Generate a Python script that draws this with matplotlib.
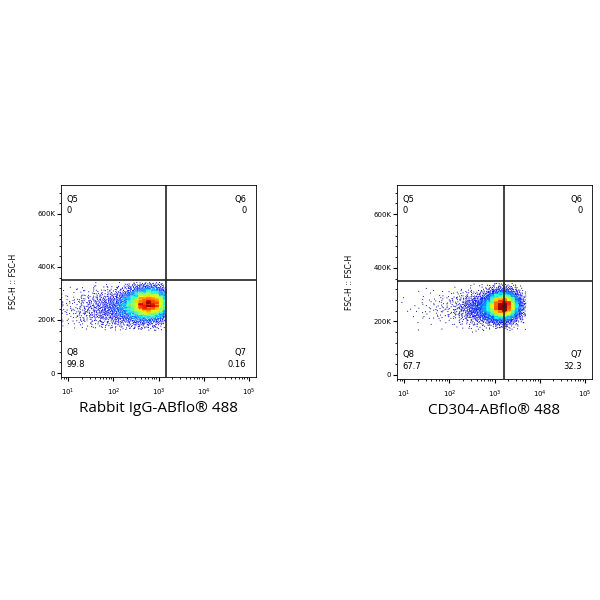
import numpy as np
import matplotlib
matplotlib.use("Agg")
import matplotlib.pyplot as plt
from matplotlib.ticker import FixedLocator

# panel data
titles = ["Rabbit IgG-ABflo\u00ae 488", "CD304-ABflo\u00ae 488"]
quad_values = [["0", "0", "0.16", "99.8"], ["0", "0", "32.3", "67.7"]]
x_gate = [1450, 1600]
y_gate = [350000, 350000]
x_max_log = [3.17, 3.7]
# population components: (log10 x centre, y centre, log sd, y sd, count)
pops = [
    [(2.8, 262000, 0.28, 34000, 3500), (2.3, 245000, 0.45, 38000, 1300), (1.5, 240000, 0.4, 40000, 250)],
    [(3.2, 258000, 0.2, 30000, 3500), (2.8, 250000, 0.33, 32000, 1100), (2.0, 250000, 0.45, 35000, 150)],
]

def halton(n, base):
    out = np.zeros(n)
    for i in range(n):
        f, r, k = 1.0, 0.0, i + 1
        while k > 0:
            f /= base
            r += f * (k % base)
            k //= base
        out[i] = r
    return out

def make_points(comps, xmax):
    xs, ys = [], []
    for j, (cx, cy, sx, sy, n) in enumerate(comps):
        u1 = halton(n + 50 * j, 2)[50 * j:] * 0.999 + 0.0005
        u2 = halton(n + 50 * j, 3)[50 * j:]
        r = np.sqrt(-2 * np.log(u1))
        xs.append(cx + sx * r * np.cos(2 * np.pi * u2))
        ys.append(cy + sy * r * np.sin(2 * np.pi * u2))
    x = np.concatenate(xs); y = np.concatenate(ys)
    keep = (x < xmax) | (np.arange(len(x)) % 40 == 0)
    m = (y < 342000) & (y > 160000) & keep
    x, y = x[m], y[m]
    x = np.clip(x, 0.86, 5.1)
    return x, y

fig = plt.figure(figsize=(6, 6), dpi=100)
rects = [[61/600, 1-377/600, 195/600, 192/600], [397/600, 1-379/600, 195/600, 194/600]]
for k in range(2):
    ax = fig.add_axes(rects[k])
    lx, y = make_points(pops[k], x_max_log[k])
    H, xe, ye = np.histogram2d(lx, y, bins=[50, 45], range=[[0.8, 5.2], [100000, 360000]])
    ix = np.clip(np.digitize(lx, xe) - 1, 0, 49)
    iy = np.clip(np.digitize(y, ye) - 1, 0, 44)
    d = H[ix, iy]
    o = np.argsort(d)
    ax.scatter(10 ** lx[o], y[o], c=d[o], cmap="jet", s=0.6, linewidths=0, vmin=0, vmax=d.max())
    ax.set_xscale("log")
    ax.set_xlim(10 ** 0.84, 10 ** 5.16)
    ax.set_ylim(-15000, 709000)
    ax.axvline(x_gate[k], color="#222222", lw=1.2)
    ax.axhline(y_gate[k], color="#222222", lw=1.2)
    ax.set_yticks([0, 200000, 400000, 600000])
    ax.set_yticklabels(["0", "200K", "400K", "600K"], fontsize=5)
    ax.yaxis.set_minor_locator(FixedLocator(np.arange(0, 700001, 40000)))
    ax.set_xticks([10, 100, 1000, 10000, 100000])
    ax.tick_params(axis="x", labelsize=5, length=3, pad=4)
    ax.tick_params(axis="y", length=3, pad=1)
    ax.tick_params(which="minor", length=1.5)
    ax.set_ylabel("FSC-H :: FSC-H", fontsize=5.5, labelpad=14)
    ax.set_xlabel(titles[k], fontsize=11, labelpad=2, family=["Open Sans", "DejaVu Sans"])
    for s in ax.spines.values():
        s.set_linewidth(0.6)
    v = quad_values[k]
    kw = dict(transform=ax.transAxes, fontsize=6)
    ax.text(0.03, 0.95, "Q5", va="top", **kw); ax.text(0.03, 0.89, v[0], va="top", **kw)
    ax.text(0.95, 0.95, "Q6", va="top", ha="right", **kw); ax.text(0.95, 0.89, v[1], va="top", ha="right", **kw)
    ax.text(0.03, 0.15, "Q8", va="top", **kw); ax.text(0.03, 0.09, v[3], va="top", **kw)
    ax.text(0.95, 0.15, "Q7", va="top", ha="right", **kw); ax.text(0.95, 0.09, v[2], va="top", ha="right", **kw)
fig.savefig("out.png", dpi=100, facecolor="white")
